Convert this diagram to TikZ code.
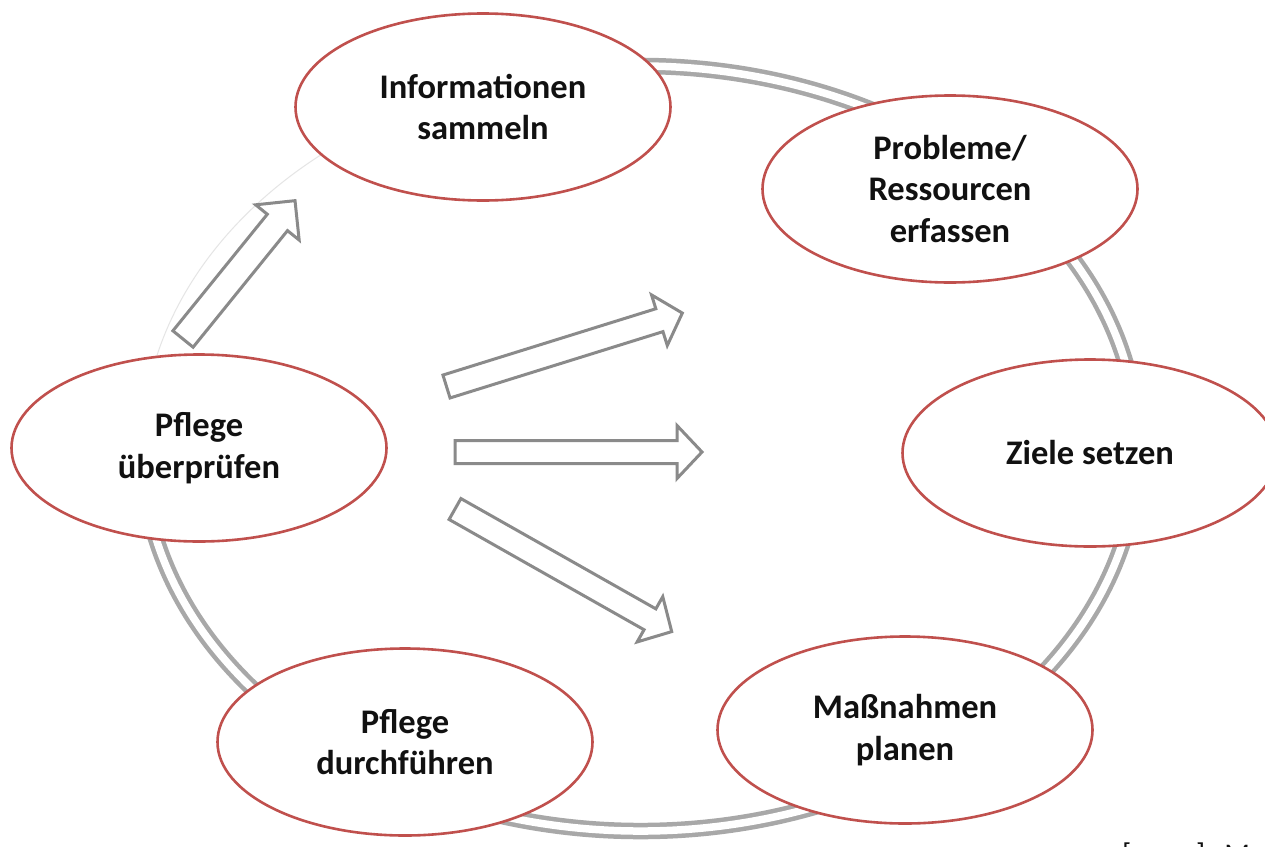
\documentclass[tikz,border=0pt]{standalone}
\usepackage{fontspec}
\setmainfont{Carlito}
\usetikzlibrary{shapes.geometric}
\definecolor{ellred}{HTML}{C0504D}
\definecolor{ringgray}{HTML}{A8A8A8}
\definecolor{arrgray}{HTML}{8A8A8A}
\definecolor{txt}{HTML}{111111}
\tikzset{
  stage/.style={ellipse, draw=ellred, line width=2.6pt, fill=white,
    minimum width=375pt, minimum height=187pt, inner sep=0pt, align=center,
    text=txt, font=\bfseries\fontsize{34.5}{41.5}\selectfont},
  ring/.style={draw=ringgray, line width=4.5pt, double=white, double distance=7.5pt},
  faintring/.style={draw=black!10, line width=1pt},
  pics/blockarrow/.style n args={4}{code={
    \draw[draw=arrgray, line width=3pt, fill=white, line join=miter]
      (0,-#2) -- (#1-#4,-#2) -- (#1-#4,-#3) -- (#1,0) -- (#1-#4,#3) -- (#1-#4,#2) -- (0,#2) -- cycle;}},
}
\begin{document}
\begin{tikzpicture}[x=1pt,y=-1pt]
\clip (0,0) rectangle (1265,846);
\fill[white] (0,0) rectangle (1265,846);
% ring
\coordinate (rc) at (640,448.5);
\draw[ring] (rc) ++(-125:498 and 382.5)
  arc[start angle=-125, end angle=192, x radius=498, y radius=382.5];
\draw[faintring] (rc) ++(192:498 and 382.5)
  arc[start angle=192, end angle=235, x radius=498, y radius=382.5];
% arrows
\pic[rotate=51] at (183,339) {blockarrow={178}{13}{28}{28}};
\pic[rotate=17.3] at (446.5,386.5) {blockarrow={247}{12}{26.5}{24}};
\pic at (455,452) {blockarrow={247}{11.5}{26.5}{25}};
\pic[rotate=-29.5] at (455,509) {blockarrow={249}{12}{26}{25}};
% stages
\node[stage] (info) at (483,107) {Informationen\\sammeln};
\node[stage] (prob) at (950,189) {Probleme/\\Ressourcen\\erfassen};
\node[stage] (ziele) at (1090,453) {Ziele setzen};
\node[stage] (mass) at (905,730) {Maßnahmen\\planen};
\node[stage] (durch) at (405,742) {Pflege\\durchführen};
\node[stage] (pruef) at (199,448) {Pflege\\überprüfen};
% cropped citation
\node[anchor=base west, inner sep=0pt, text=txt, font=\fontsize{30}{36}\selectfont]
  (cite) at (1122,864) {[\kern21pt...\kern21pt]\kern19pt M};
\end{tikzpicture}
\end{document}
